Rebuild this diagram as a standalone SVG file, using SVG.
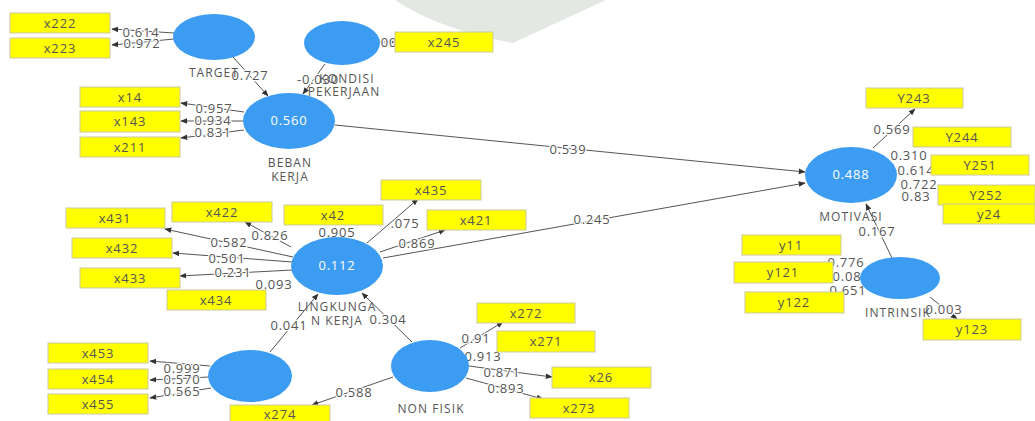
<svg xmlns="http://www.w3.org/2000/svg" width="1035" height="421" viewBox="0 0 1035 421">
<style>
.bg{fill:#ffffff}
.lv{fill:#3b9cf2}
.box{fill:#ffff00;stroke:#c9c9a0;stroke-width:1}
.bt{font-family:"Open Sans","Liberation Sans",sans-serif;font-size:13px;letter-spacing:0.9px;fill:#555;text-anchor:middle}
.nl{font-family:"Open Sans","Liberation Sans",sans-serif;font-size:12px;letter-spacing:1.1px;fill:#555;text-anchor:middle}
.r2{font-family:"Open Sans","Liberation Sans",sans-serif;font-size:13px;letter-spacing:0.8px;fill:#ffffff;text-anchor:middle}
.w{font-family:"Open Sans","Liberation Sans",sans-serif;font-size:13px;letter-spacing:0.8px;fill:#555;text-anchor:middle;stroke:#fff;stroke-width:2.5px;paint-order:stroke}
.ln{stroke:#555;stroke-width:1;fill:none;marker-end:url(#ah)}
</style>
<defs>
<marker id="ah" viewBox="0 0 10 10" refX="9" refY="5" markerWidth="7" markerHeight="7" orient="auto" markerUnits="userSpaceOnUse">
<path d="M0,1 L10,5 L0,9 z" fill="#333"/>
</marker>
</defs>
<rect class="bg" x="0" y="0" width="1035" height="421"/>
<path d="M395,0 Q440,30 513,43 L606,0 Z" fill="#e3e8e3"/>

<g id="connectors">
<line class="ln" x1="174" y1="33" x2="112" y2="29"/>
<line class="ln" x1="174" y1="39" x2="112" y2="45"/>
<line class="ln" x1="233" y1="57" x2="268" y2="96"/>
<line class="ln" x1="325" y1="64" x2="303" y2="94"/>
<line class="ln" x1="380" y1="42" x2="395" y2="42"/>
<line class="ln" x1="244" y1="112" x2="181" y2="103"/>
<line class="ln" x1="243" y1="121" x2="181" y2="121"/>
<line class="ln" x1="244" y1="130" x2="181" y2="138"/>
<line class="ln" x1="335" y1="125" x2="805" y2="172"/>
<line class="ln" x1="383" y1="258" x2="805" y2="183"/>
<line class="ln" x1="293" y1="257" x2="165" y2="229"/>
<line class="ln" x1="291" y1="247" x2="245" y2="222"/>
<line class="ln" x1="367" y1="243" x2="418" y2="199"/>
<line class="ln" x1="380" y1="252" x2="445" y2="230"/>
<line class="ln" x1="292" y1="262" x2="173" y2="253"/>
<line class="ln" x1="292" y1="270" x2="180" y2="276"/>
<line class="ln" x1="270" y1="352" x2="318" y2="294"/>
<line class="ln" x1="412" y1="342" x2="362" y2="293"/>
<line class="ln" x1="460" y1="348" x2="503" y2="322"/>
<line class="ln" x1="469" y1="366" x2="552" y2="377"/>
<line class="ln" x1="466" y1="378" x2="543" y2="399"/>
<line class="ln" x1="393" y1="377" x2="312" y2="405"/>
<line class="ln" x1="210" y1="366" x2="150" y2="361"/>
<line class="ln" x1="209" y1="377" x2="150" y2="380"/>
<line class="ln" x1="211" y1="388" x2="150" y2="398"/>
<line class="ln" x1="873" y1="148" x2="915" y2="109"/>
<line class="ln" x1="892" y1="258" x2="866" y2="204"/>
<line class="ln" x1="930" y1="297" x2="957" y2="319"/>
<text class="w" x="141" y="37">0.614</text>
<text class="w" x="142" y="48">0.972</text>
<text class="w" x="250" y="80">0.727</text>
<text class="w" x="318" y="84">-0.030</text>
<text class="w" x="214" y="113">0.957</text>
<text class="w" x="213" y="125">0.934</text>
<text class="w" x="213" y="137">0.831</text>
<text class="w" x="568" y="154">0.539</text>
<text class="w" x="592" y="224">0.245</text>
<text class="w" x="229" y="247">0.582</text>
<text class="w" x="270" y="240">0.826</text>
<text class="w" x="337" y="237">0.905</text>
<text class="w" x="405" y="228">.075</text>
<text class="w" x="417" y="248">0.869</text>
<text class="w" x="227" y="263">0.501</text>
<text class="w" x="233" y="277">0.231</text>
<text class="w" x="274" y="289">0.093</text>
<text class="w" x="289" y="330">0.041</text>
<text class="w" x="388" y="324">0.304</text>
<text class="w" x="476" y="343">0.91</text>
<text class="w" x="483" y="361">0.913</text>
<text class="w" x="502" y="377">0.871</text>
<text class="w" x="506" y="393">0.893</text>
<text class="w" x="354" y="397">0.588</text>
<text class="w" x="182" y="373">0.999</text>
<text class="w" x="182" y="384">0.570</text>
<text class="w" x="182" y="396">0.565</text>
<text class="w" x="892" y="134">0.569</text>
<text class="w" x="909" y="160">0.310</text>
<text class="w" x="916" y="175">0.614</text>
<text class="w" x="919" y="189">0.722</text>
<text class="w" x="916" y="201">0.83</text>
<text class="w" x="877" y="236">0.167</text>
<text class="w" x="846" y="267">0.776</text>
<text class="w" x="847" y="281">0.08</text>
<text class="w" x="848" y="295">0.651</text>
<text class="w" x="944" y="314">0.003</text>
<text class="w" x="389" y="47">00</text>
</g>

<g id="TARGET"><ellipse class="lv" cx="214" cy="37" rx="41" ry="23"/><text class="nl" x="214" y="77">TARGET</text></g>
<g id="KONDISI"><ellipse class="lv" cx="342" cy="43" rx="38" ry="22"/><text class="nl" x="347" y="83">KONDISI</text><text class="nl" x="344" y="96">PEKERJAAN</text></g>
<g id="BEBAN"><ellipse class="lv" cx="289" cy="121" rx="46" ry="28"/><text class="r2" x="289" y="125">0.560</text><text class="nl" x="290" y="167">BEBAN</text><text class="nl" x="290" y="181">KERJA</text></g>
<g id="LINGKUNGAN"><ellipse class="lv" cx="337" cy="266" rx="46" ry="29"/><text class="r2" x="337" y="270">0.112</text><text class="nl" x="337" y="311">LINGKUNGA</text><text class="nl" x="337" y="325">N KERJA</text></g>
<g id="MOTIVASI"><ellipse class="lv" cx="851" cy="175" rx="46" ry="28"/><text class="r2" x="851" y="179">0.488</text><text class="nl" x="851" y="221">MOTIVASI</text></g>
<g id="INTRINSIK"><ellipse class="lv" cx="900" cy="278" rx="40" ry="21"/><text class="nl" x="898" y="317">INTRINSIK</text></g>
<g id="LV45"><ellipse class="lv" cx="250" cy="376" rx="42" ry="26"/></g>
<g id="NONFISIK"><ellipse class="lv" cx="430" cy="366" rx="39" ry="26"/><text class="nl" x="431" y="413">NON FISIK</text></g>

<g id="ind-x222"><rect class="box" x="10" y="13" width="100" height="20"/><text class="bt" x="60" y="28">x222</text></g>
<g id="ind-x223"><rect class="box" x="10" y="38" width="100" height="20"/><text class="bt" x="60" y="53">x223</text></g>
<g id="ind-x245"><rect class="box" x="395" y="32" width="98" height="20"/><text class="bt" x="444" y="47">x245</text></g>
<g id="ind-x14"><rect class="box" x="80" y="87" width="100" height="20"/><text class="bt" x="130" y="102">x14</text></g>
<g id="ind-x143"><rect class="box" x="80" y="111" width="100" height="21"/><text class="bt" x="130" y="126">x143</text></g>
<g id="ind-x211"><rect class="box" x="80" y="137" width="100" height="20"/><text class="bt" x="130" y="152">x211</text></g>
<g id="ind-x435"><rect class="box" x="381" y="180" width="100" height="20"/><text class="bt" x="431" y="195">x435</text></g>
<g id="ind-x431"><rect class="box" x="66" y="208" width="99" height="20"/><text class="bt" x="115" y="223">x431</text></g>
<g id="ind-x422"><rect class="box" x="172" y="202" width="100" height="20"/><text class="bt" x="222" y="217">x422</text></g>
<g id="ind-x42"><rect class="box" x="284" y="205" width="99" height="20"/><text class="bt" x="333" y="220">x42</text></g>
<g id="ind-x421"><rect class="box" x="427" y="210" width="99" height="20"/><text class="bt" x="476" y="225">x421</text></g>
<g id="ind-x432"><rect class="box" x="72" y="238" width="100" height="20"/><text class="bt" x="122" y="253">x432</text></g>
<g id="ind-x433"><rect class="box" x="80" y="268" width="100" height="20"/><text class="bt" x="130" y="283">x433</text></g>
<g id="ind-x434"><rect class="box" x="167" y="290" width="99" height="20"/><text class="bt" x="216" y="305">x434</text></g>
<g id="ind-x453"><rect class="box" x="48" y="343" width="100" height="20"/><text class="bt" x="98" y="358">x453</text></g>
<g id="ind-x454"><rect class="box" x="48" y="369" width="100" height="20"/><text class="bt" x="98" y="384">x454</text></g>
<g id="ind-x455"><rect class="box" x="48" y="394" width="100" height="20"/><text class="bt" x="98" y="409">x455</text></g>
<g id="ind-x274"><rect class="box" x="230" y="405" width="100" height="20"/><text class="bt" x="280" y="419">x274</text></g>
<g id="ind-x272"><rect class="box" x="477" y="303" width="98" height="20"/><text class="bt" x="526" y="318">x272</text></g>
<g id="ind-x271"><rect class="box" x="497" y="331" width="98" height="21"/><text class="bt" x="546" y="346">x271</text></g>
<g id="ind-x26"><rect class="box" x="552" y="367" width="99" height="21"/><text class="bt" x="601" y="382">x26</text></g>
<g id="ind-x273"><rect class="box" x="530" y="398" width="99" height="20"/><text class="bt" x="579" y="413">x273</text></g>
<g id="ind-Y243"><rect class="box" x="866" y="88" width="97" height="20"/><text class="bt" x="914" y="103">Y243</text></g>
<g id="ind-Y244"><rect class="box" x="913" y="127" width="98" height="20"/><text class="bt" x="962" y="142">Y244</text></g>
<g id="ind-Y251"><rect class="box" x="931" y="155" width="98" height="20"/><text class="bt" x="980" y="170">Y251</text></g>
<g id="ind-Y252"><rect class="box" x="938" y="185" width="97" height="20"/><text class="bt" x="986" y="200">Y252</text></g>
<g id="ind-y24"><rect class="box" x="943" y="204" width="92" height="20"/><text class="bt" x="989" y="219">y24</text></g>
<g id="ind-y11"><rect class="box" x="742" y="235" width="99" height="20"/><text class="bt" x="791" y="250">y11</text></g>
<g id="ind-y121"><rect class="box" x="734" y="262" width="99" height="21"/><text class="bt" x="783" y="277">y121</text></g>
<g id="ind-y122"><rect class="box" x="745" y="292" width="99" height="21"/><text class="bt" x="794" y="307">y122</text></g>
<g id="ind-y123"><rect class="box" x="923" y="319" width="98" height="21"/><text class="bt" x="972" y="334">y123</text></g>
</svg>
